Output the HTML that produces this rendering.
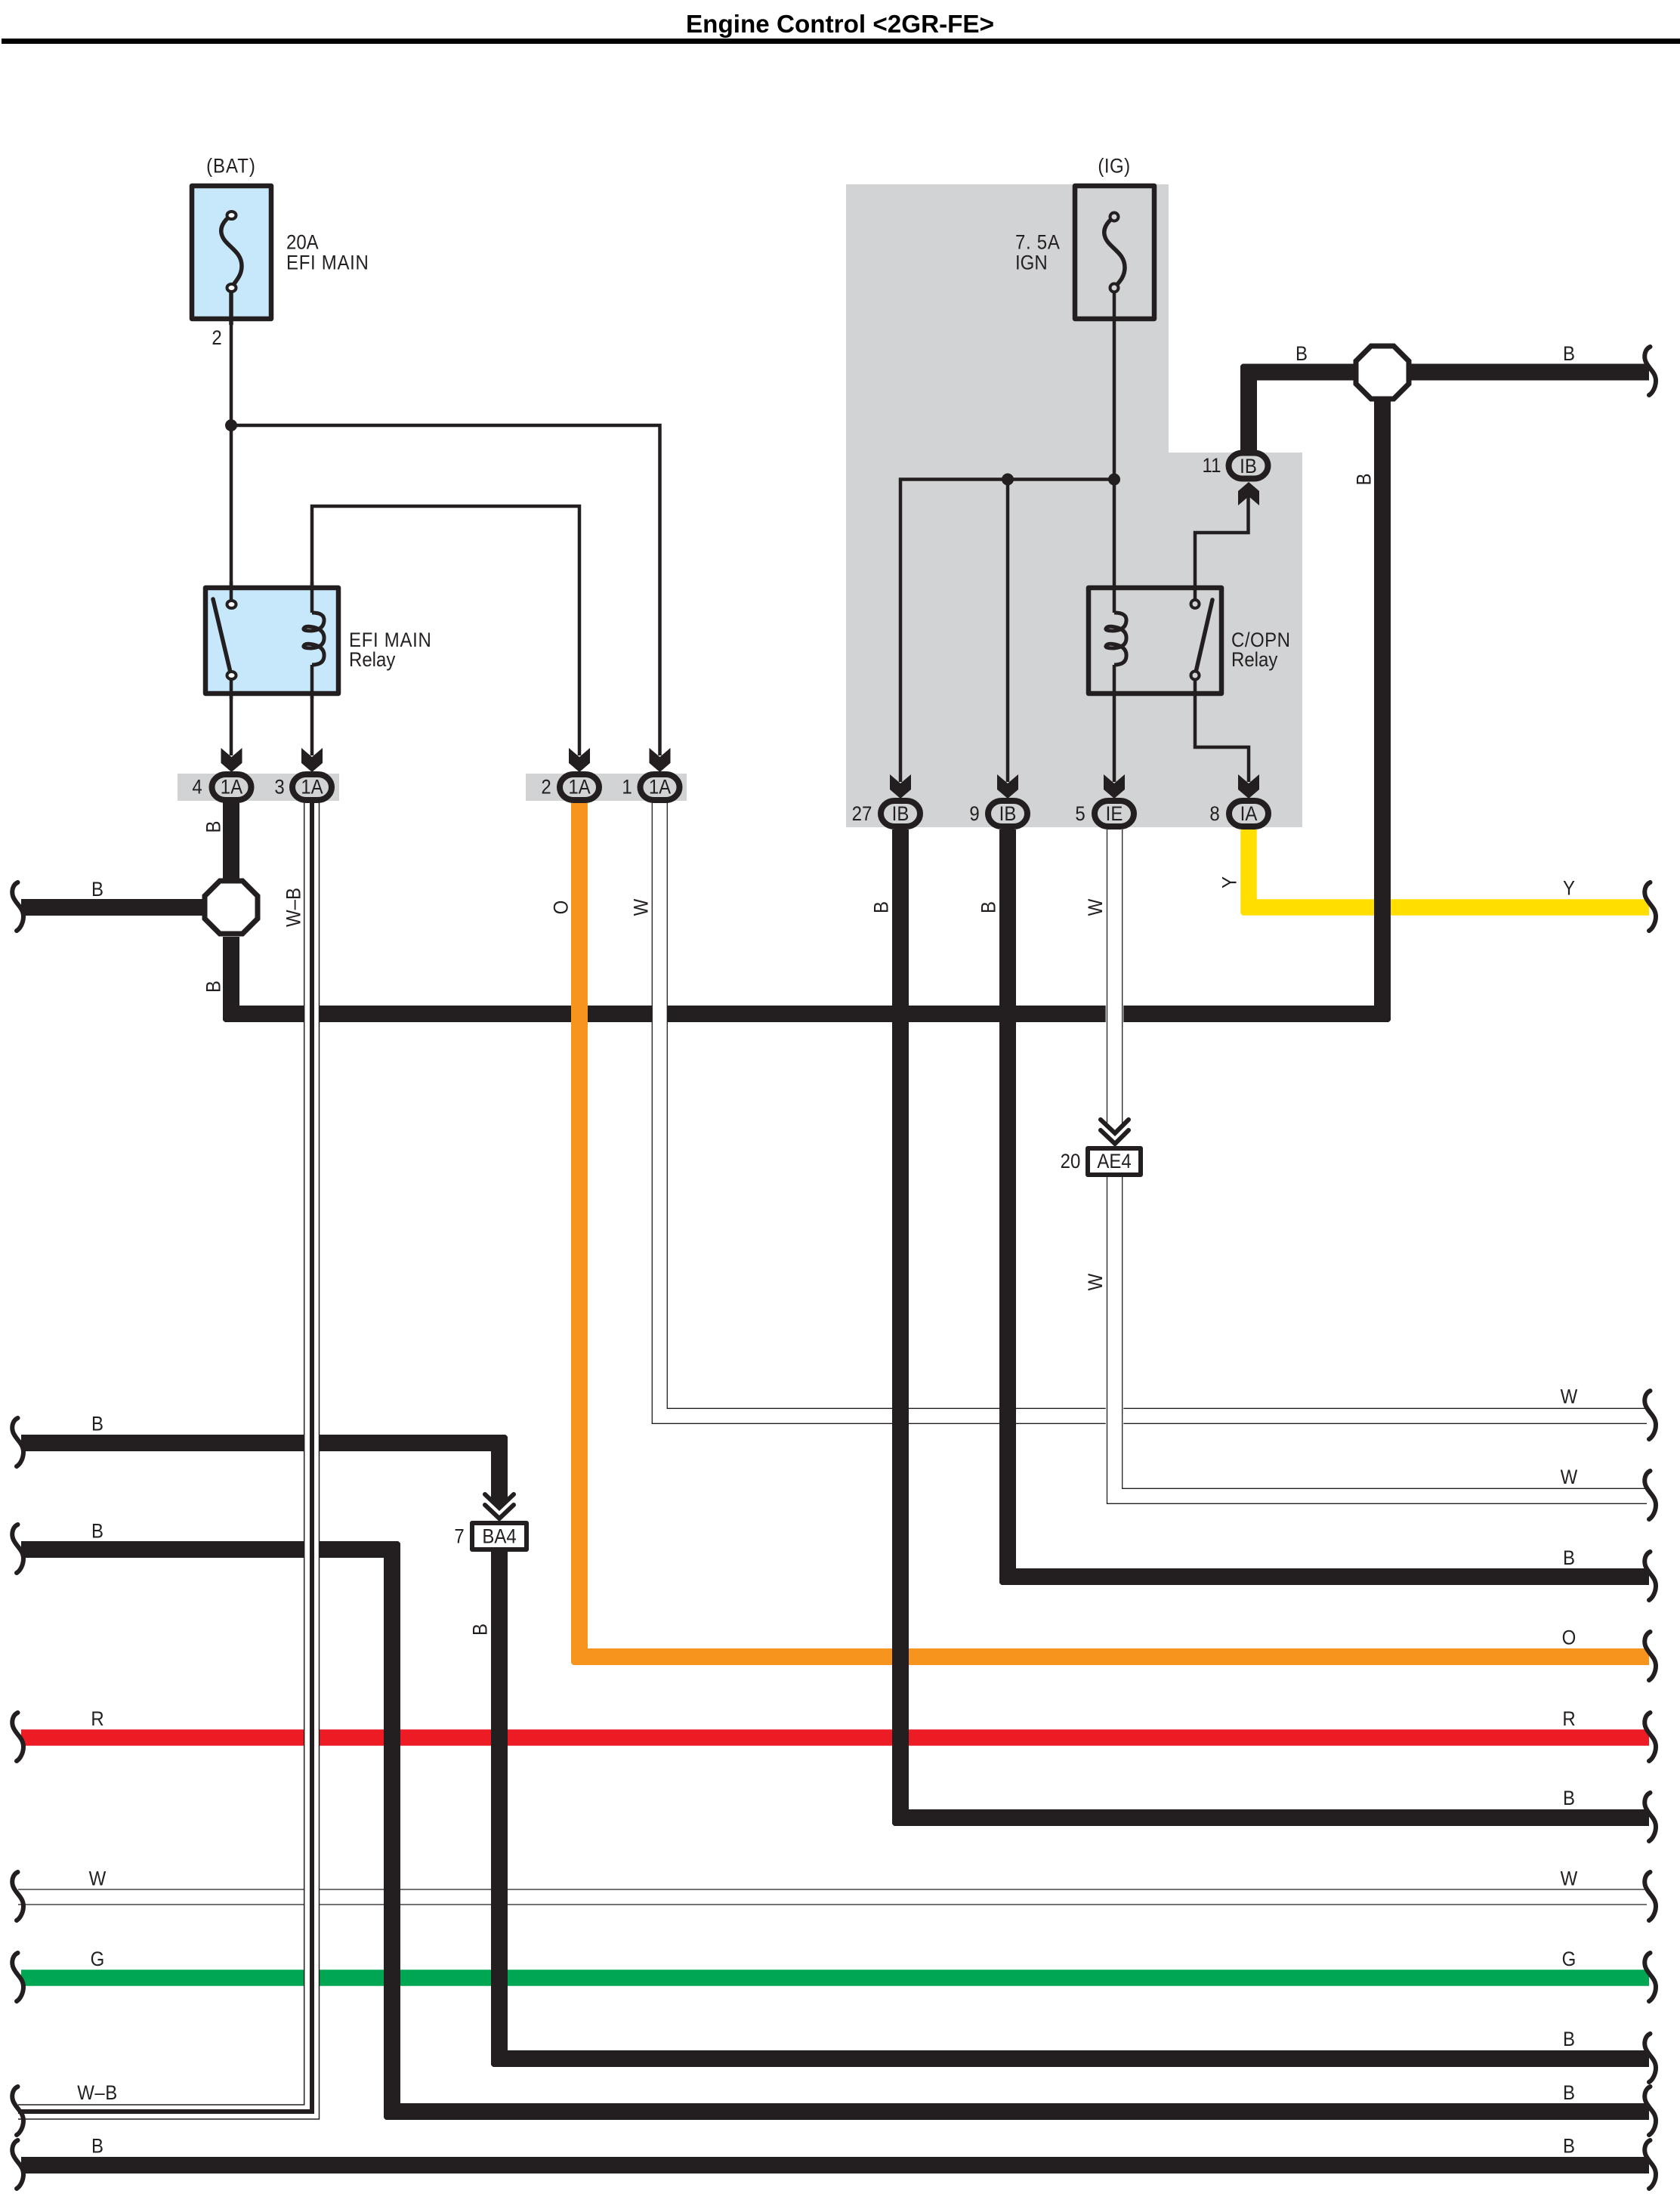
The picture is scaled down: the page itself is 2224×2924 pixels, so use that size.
<!DOCTYPE html>
<html><head><meta charset="utf-8"><title>Engine Control</title>
<style>
html,body{margin:0;padding:0;background:#fff}
svg{display:block}
text{font-family:"Liberation Sans",sans-serif;font-size:24px;fill:#231f20;transform-box:fill-box;transform-origin:center;transform:scaleY(1.1)}
text.t{transform:none}
.m{text-anchor:middle}
.r{text-anchor:end}
</style></head><body>
<svg xmlns="http://www.w3.org/2000/svg" width="2224" height="2924" viewBox="0 0 2224 2924">
<defs>
<path id="sq" d="M2184.5,-33 C2178,-30 2176,-22 2178,-15 C2181,-5 2192,0 2192,12 C2192,20 2188,28 2183,31" fill="none" stroke="#231f20" stroke-width="6" stroke-linecap="round"/>
<polygon id="ar" points="-14,-32 0,-20 14,-32 14,-12 0,0 -14,-12" fill="#231f20"/>
<rect id="ov" x="-26" y="-17" width="52" height="34" rx="18" ry="17" fill="#d1d3d4" stroke="#231f20" stroke-width="8"/>
<polygon id="oc" points="-15,-35 15,-35 35,-15 35,15 15,35 -15,35 -35,15 -35,-15" fill="#fff" stroke="#231f20" stroke-width="7"/>
<path id="coil" d="M413 811 Q430 811 429 822 Q428 834 412 835 Q401 835 402 832 Q404 827 418 831 Q430 835 429 846 Q428 857 412 858 Q401 858 402 855 Q404 850 418 854 Q430 858 429 869 Q428 880 413 880" fill="none" stroke="#231f20" stroke-width="5"/>
<path id="cn" d="M-.5 -.5H5.5A6 6 0 0 0 -.5 5.5Z" fill="#fff"/>
</defs>

<text x="1112" y="43" class="m t" style="font-size:33px;font-weight:bold;fill:#000" textLength="408" lengthAdjust="spacingAndGlyphs">Engine Control &lt;2GR-FE&gt;</text>
<rect x="2" y="51" width="2222" height="7" fill="#000"/>

<!-- gray regions -->
<polygon points="1120,244 1547,244 1547,599 1724,599 1724,1095 1120,1095" fill="#d1d3d4"/>
<rect x="235" y="1024" width="214" height="36" fill="#d1d3d4"/>
<rect x="696" y="1024" width="213" height="36" fill="#d1d3d4"/>

<!-- colored wires under blacks -->
<g fill="none" stroke-width="21.5" stroke-linejoin="miter">
<path d="M28 2300H2183" stroke="#ed1c24"/>
<path d="M28 2618H2183" stroke="#00a651"/>
<path d="M1653 1098V1201H2183" stroke="#ffde00"/>
</g>
<g stroke="#231f20" stroke-width="1.3" fill="none">
<path d="M24 2501H2180M24 2521H2180"/>
</g>

<!-- main black -->
<g fill="none" stroke="#231f20" stroke-width="22">
<path d="M306 1240V1342H1830"/>
<path d="M306 1062V1163"/>
<path d="M28 1201H270"/>
</g>
<path d="M767 1061V2193H2183" fill="none" stroke="#f7941d" stroke-width="22"/>

<!-- W 1 -->
<rect x="863.3" y="1061" width="20" height="830" fill="#fff"/>
<rect x="863.3" y="1864.3" width="1317" height="20" fill="#fff"/>
<path d="M863.3 1061V1884.3H2180M883.3 1061V1864.3H2180" fill="none" stroke="#231f20" stroke-width="1.3"/>
<!-- W 5 -->
<rect x="1463.7" y="1098" width="23.6" height="389" fill="#fff"/>
<rect x="1463.7" y="1558" width="23.6" height="432" fill="#fff"/>
<rect x="1465.5" y="1970.3" width="715" height="20" fill="#fff"/>
<path d="M1465.5 1098V1487M1485.7 1098V1487M1465.5 1558V1990.3H2180M1485.7 1558V1970.3H2180" fill="none" stroke="#231f20" stroke-width="1.3"/>

<!-- black wires over -->
<g fill="none" stroke="#231f20" stroke-width="22">
<path d="M1830 530V1353"/>
<path d="M1653 600V492.5H1795"/>
<path d="M1866 492.5H2183"/>
<path d="M1192 1098V2406H2183"/>
<path d="M1334 1098V2087H2183"/>
<path d="M28 1910H661V1985"/>
<path d="M661 2054V2725H2183"/>
<path d="M28 2051H519V2795H2183"/>
<path d="M28 2866H2183"/>
</g>
<polygon points="650,1983 661,1995 672,1983" fill="#231f20"/>

<!-- rounded outer corners -->
<use href="#cn" transform="translate(295 1353) rotate(-90)"/>
<use href="#cn" transform="translate(1841 1353) rotate(180)"/>
<use href="#cn" transform="translate(1642 481.5)"/>
<use href="#cn" transform="translate(1642.2 1211.8) rotate(-90)"/>
<use href="#cn" transform="translate(756 2204) rotate(-90)"/>
<use href="#cn" transform="translate(1181 2417) rotate(-90)"/>
<use href="#cn" transform="translate(1323 2098) rotate(-90)"/>
<use href="#cn" transform="translate(672 1899) rotate(90)"/>
<use href="#cn" transform="translate(650 2736) rotate(-90)"/>
<use href="#cn" transform="translate(530 2040) rotate(90)"/>
<use href="#cn" transform="translate(508 2806) rotate(-90)"/>

<!-- W-B -->
<polygon points="402.5,1062 423,1062 423,2805 24,2805 24,2786 402.5,2786" fill="#fff"/>
<path d="M402.7 1062V2786H24M422.5 1062V2805H24" fill="none" stroke="#231f20" stroke-width="1.5"/>
<path d="M413 1062V2795H24" fill="none" stroke="#231f20" stroke-width="6"/>

<!-- thin wires -->
<g fill="none" stroke="#231f20" stroke-width="4.5">
<path d="M306 386V800M306 894V1000"/>
<path d="M306 563H873.5V1000"/>
<path d="M413 775V670H767V1000"/>
<path d="M413 880V1000"/>
<path d="M1475 386V811M1475 880V1035"/>
<path d="M1475 634.5H1192V1035"/>
<path d="M1334 634.5V1035"/>
<path d="M1652.5 650V705H1582V794"/>
<path d="M1582 900V989H1653V1035"/>
</g>
<circle cx="306" cy="563" r="8" fill="#231f20"/>
<circle cx="1334" cy="634.5" r="8" fill="#231f20"/>
<circle cx="1475" cy="634.5" r="8" fill="#231f20"/>

<!-- fuses -->
<rect x="254" y="246" width="105" height="176" fill="#c7e8fb" stroke="#231f20" stroke-width="6.5" stroke-linejoin="round"/>
<path d="M306 285C296 292 290 302 294 312C299 326 320 332 320 352C320 365 312 372 306 381V430" fill="none" stroke="#231f20" stroke-width="5.5"/>
<path d="M306 425V386" fill="none" stroke="#231f20" stroke-width="4.5"/>
<ellipse cx="306.5" cy="285" rx="6" ry="5" fill="#fff" stroke="#231f20" stroke-width="4"/>
<ellipse cx="306.5" cy="381" rx="6" ry="5" fill="#fff" stroke="#231f20" stroke-width="4"/>

<rect x="1423" y="246" width="105" height="176" fill="none" stroke="#231f20" stroke-width="6.5" stroke-linejoin="round"/>
<path d="M1475 287C1465 294 1459 304 1463 314C1468 328 1489 334 1489 354C1489 367 1481 374 1475 381" fill="none" stroke="#231f20" stroke-width="5.5"/>
<circle cx="1475" cy="287" r="5.5" fill="#d1d3d4" stroke="#231f20" stroke-width="4"/>
<circle cx="1475" cy="381" r="5.5" fill="#d1d3d4" stroke="#231f20" stroke-width="4"/>

<!-- relays -->
<rect x="272" y="778" width="176" height="140" fill="#c7e8fb" stroke="#231f20" stroke-width="6.5" stroke-linejoin="round"/>
<path d="M306 770V800M306 894V925M413 770V811M413 880V925" fill="none" stroke="#231f20" stroke-width="4.5"/>
<path d="M282 793L306 894" fill="none" stroke="#231f20" stroke-width="5.5" stroke-linecap="round"/>
<ellipse cx="306.5" cy="800" rx="6" ry="5" fill="#fff" stroke="#231f20" stroke-width="4"/>
<ellipse cx="306.5" cy="894" rx="6" ry="5" fill="#fff" stroke="#231f20" stroke-width="4"/>
<use href="#coil"/>

<rect x="1441" y="778" width="176" height="140" fill="none" stroke="#231f20" stroke-width="6.5" stroke-linejoin="round"/>
<path d="M1605 794L1582 894" fill="none" stroke="#231f20" stroke-width="5.5" stroke-linecap="round"/>
<circle cx="1582" cy="799.5" r="5.5" fill="#d1d3d4" stroke="#231f20" stroke-width="4"/>
<circle cx="1582" cy="894" r="5.5" fill="#d1d3d4" stroke="#231f20" stroke-width="4"/>
<use href="#coil" transform="translate(1062 0)"/>

<!-- arrows -->
<use href="#ar" transform="translate(306.5 1022)"/>
<use href="#ar" transform="translate(413 1022)"/>
<use href="#ar" transform="translate(767 1022)"/>
<use href="#ar" transform="translate(873.5 1022)"/>
<use href="#ar" transform="translate(1192 1057)"/>
<use href="#ar" transform="translate(1334 1057)"/>
<use href="#ar" transform="translate(1475 1057)"/>
<use href="#ar" transform="translate(1653 1057)"/>
<polygon points="1653,638 1667,650 1667,669 1653,657 1639,669 1639,650" fill="#231f20"/>

<!-- octagons -->
<use href="#oc" transform="translate(306 1201)"/>
<use href="#oc" transform="translate(1830 493)"/>

<!-- connectors -->
<use href="#ov" transform="translate(306.5 1042)"/>
<use href="#ov" transform="translate(413 1042)"/>
<use href="#ov" transform="translate(767 1042)"/>
<use href="#ov" transform="translate(873.5 1042)"/>
<use href="#ov" transform="translate(1192 1077)"/>
<use href="#ov" transform="translate(1334 1077)"/>
<use href="#ov" transform="translate(1475 1077)"/>
<use href="#ov" transform="translate(1653 1077)"/>
<use href="#ov" transform="translate(1652.5 616.5)"/>

<!-- inline connectors -->
<g fill="none" stroke="#231f20" stroke-width="6" stroke-linecap="round" stroke-linejoin="miter">
<path d="M1457 1482L1476 1500L1494 1482M1457 1496L1476 1514L1494 1496"/>
<path d="M642 1978L661 1996L680 1978M642 1992L661 2010L680 1992" />
</g>
<rect x="1440" y="1520" width="70" height="35" fill="#fff" stroke="#231f20" stroke-width="6" stroke-linejoin="round"/>
<rect x="625" y="2016" width="72" height="35" fill="#fff" stroke="#231f20" stroke-width="6" stroke-linejoin="round"/>

<!-- squiggles right -->
<use href="#sq" transform="translate(0 492)"/>
<use href="#sq" transform="translate(0 1201)"/>
<use href="#sq" transform="translate(0 1874)"/>
<use href="#sq" transform="translate(0 1980)"/>
<use href="#sq" transform="translate(0 2087)"/>
<use href="#sq" transform="translate(0 2193)"/>
<use href="#sq" transform="translate(0 2300)"/>
<use href="#sq" transform="translate(0 2406)"/>
<use href="#sq" transform="translate(0 2511)"/>
<use href="#sq" transform="translate(0 2618)"/>
<use href="#sq" transform="translate(0 2725)"/>
<use href="#sq" transform="translate(0 2795)"/>
<use href="#sq" transform="translate(0 2866)"/>
<!-- squiggles left -->
<use href="#sq" transform="translate(-2161 1201)"/>
<use href="#sq" transform="translate(-2161 1910)"/>
<use href="#sq" transform="translate(-2161 2051)"/>
<use href="#sq" transform="translate(-2161 2300)"/>
<use href="#sq" transform="translate(-2161 2511)"/>
<use href="#sq" transform="translate(-2161 2618)"/>
<use href="#sq" transform="translate(-2161 2795)"/>
<use href="#sq" transform="translate(-2161 2866)"/>

<!-- labels -->
<text x="306" y="228" class="m" style="letter-spacing:1px">(BAT)</text>
<text x="379" y="329">20A</text>
<text x="379" y="355.5" style="letter-spacing:.7px">EFI MAIN</text>
<text x="287" y="455" class="m">2</text>
<text x="462" y="855" style="letter-spacing:.7px">EFI MAIN</text>
<text x="462" y="881">Relay</text>
<text x="1475" y="228" class="m" style="letter-spacing:.5px">(IG)</text>
<text x="1344" y="329" style="letter-spacing:.7px">7. 5A</text>
<text x="1344" y="355.5">IGN</text>
<text x="1630" y="855" style="letter-spacing:.5px">C/OPN</text>
<text x="1630" y="881.5">Relay</text>

<text x="261" y="1050" class="m">4</text>
<text x="370" y="1050" class="m">3</text>
<text x="723" y="1050" class="m">2</text>
<text x="830" y="1050" class="m">1</text>
<text x="306.5" y="1050" class="m">1A</text>
<text x="413" y="1050" class="m">1A</text>
<text x="767" y="1050" class="m">1A</text>
<text x="873.5" y="1050" class="m">1A</text>

<text x="1141" y="1085" class="m">27</text>
<text x="1290" y="1085" class="m">9</text>
<text x="1430" y="1085" class="m">5</text>
<text x="1608" y="1085" class="m">8</text>
<text x="1192" y="1085" class="m">IB</text>
<text x="1334" y="1085" class="m">IB</text>
<text x="1475" y="1085" class="m">IE</text>
<text x="1653" y="1085" class="m">IA</text>
<text x="1604" y="624.5" class="m">11</text>
<text x="1652.5" y="625" class="m">IB</text>

<text x="1417" y="1545" class="m">20</text>
<text x="1475" y="1545" class="m">AE4</text>
<text x="608" y="2042" class="m">7</text>
<text x="661" y="2042" class="m">BA4</text>

<text x="1723" y="476" class="m">B</text>
<text x="2077" y="476" class="m">B</text>
<text x="129" y="1185" class="m">B</text>
<text x="2077" y="1184" class="m">Y</text>

<text x="2077" y="1857" class="m">W</text>
<text x="2077" y="1963" class="m">W</text>
<text x="2077" y="2070" class="m">B</text>
<text x="2077" y="2176" class="m">O</text>
<text x="2077" y="2283" class="m">R</text>
<text x="2077" y="2388" class="m">B</text>
<text x="2077" y="2495" class="m">W</text>
<text x="2077" y="2601" class="m">G</text>
<text x="2077" y="2707" class="m">B</text>
<text x="2077" y="2778" class="m">B</text>
<text x="2077" y="2849" class="m">B</text>

<text x="129" y="1893" class="m">B</text>
<text x="129" y="2035" class="m">B</text>
<text x="129" y="2283" class="m">R</text>
<text x="129" y="2495" class="m">W</text>
<text x="129" y="2601" class="m">G</text>
<text x="129" y="2778" class="m" style="letter-spacing:.5px">W–B</text>
<text x="129" y="2849" class="m">B</text>

<!-- rotated -->
<g transform="translate(290.5 1094.5) rotate(-90)"><text class="m">B</text></g>
<g transform="translate(290.5 1306) rotate(-90)"><text class="m">B</text></g>
<g transform="translate(396.5 1201) rotate(-90)"><text class="m">W–B</text></g>
<g transform="translate(750.5 1201) rotate(-90)"><text class="m">O</text></g>
<g transform="translate(856.5 1201) rotate(-90)"><text class="m">W</text></g>
<g transform="translate(1174.5 1201) rotate(-90)"><text class="m">B</text></g>
<g transform="translate(1316.5 1201) rotate(-90)"><text class="m">B</text></g>
<g transform="translate(1458 1201) rotate(-90)"><text class="m">W</text></g>
<g transform="translate(1635.5 1168) rotate(-90)"><text class="m">Y</text></g>
<g transform="translate(1813.5 634.5) rotate(-90)"><text class="m">B</text></g>
<g transform="translate(1458 1697) rotate(-90)"><text class="m">W</text></g>
<g transform="translate(643.5 2157) rotate(-90)"><text class="m">B</text></g>
</svg>
</body></html>
